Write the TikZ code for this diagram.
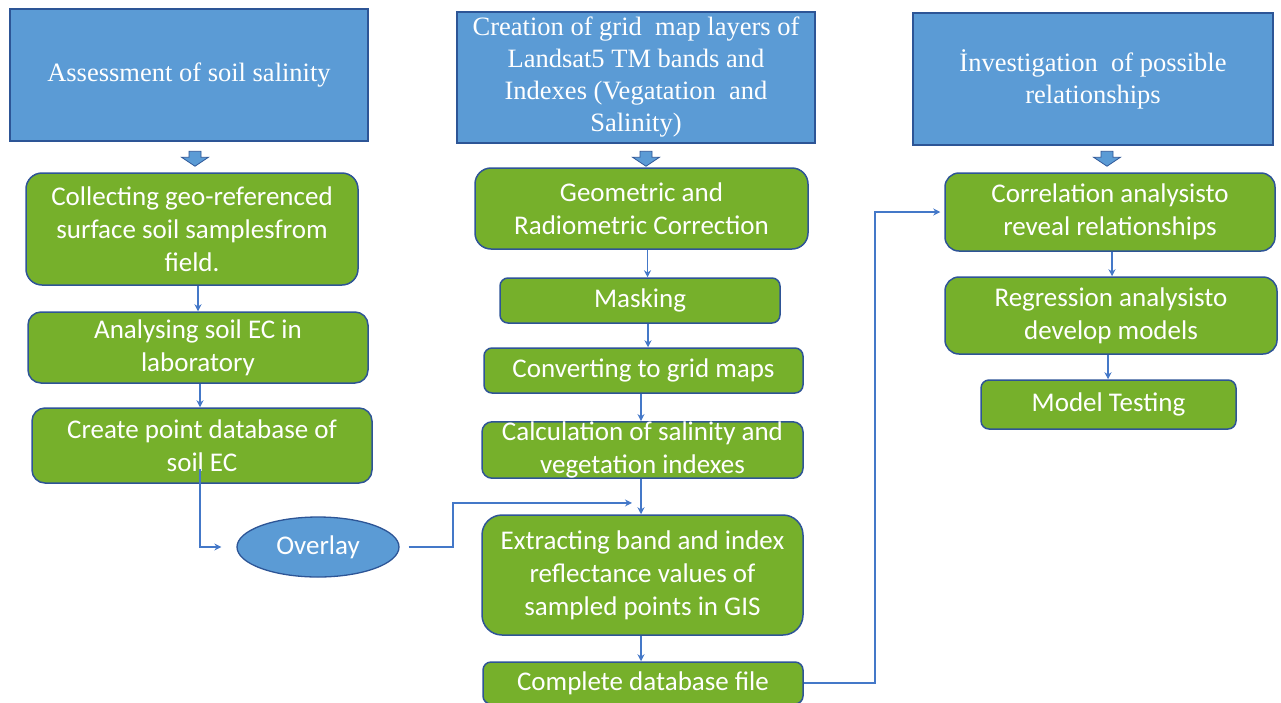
\documentclass[tikz,border=0pt]{standalone}
\usepackage{fontspec}
\setmainfont{Liberation Serif}
\newfontfamily\stepfont{Carlito}
\usetikzlibrary{calc,arrows.meta,shapes.geometric}

\definecolor{titleblue}{RGB}{91,155,213}
\definecolor{titleedge}{RGB}{45,85,150}
\definecolor{stepgreen}{RGB}{118,176,43}
\definecolor{stepedge}{RGB}{46,84,150}
\definecolor{linkblue}{RGB}{68,120,200}

\tikzset{
  titlebox/.style={draw=titleedge, fill=titleblue, line width=1.3pt, text=white,
    font=\fontsize{26.5}{32}\selectfont, align=center, inner sep=0pt},
  stepbox/.style={draw=stepedge, fill=stepgreen, line width=1.5pt, rounded corners=#1,
    text=white, font=\stepfont\fontsize{27}{33}\selectfont, align=center, inner sep=0pt},
  stepbox/.default=13pt,
  link/.style={draw=linkblue, line width=1.8pt, -{Stealth[length=7pt,width=7pt]}},
  blockarrow/.style={fill=titleblue, draw=titleedge, line width=0.8pt, line join=miter}
}

% wide arrow pointing down, tip at the given point
\newcommand\downblock[1]{\filldraw[blockarrow] (#1) -- ++(-13.5,-9) -- ++(7.5,0)
  -- ++(0,-6) -- ++(12,0) -- ++(0,6) -- ++(7.5,0) -- cycle;}

\begin{document}
\begin{tikzpicture}[x=1pt,y=-1pt]
\useasboundingbox (0,0) rectangle (1281,702);
\clip (0,0) rectangle (1281,702);

% stage headers
\node[titlebox, minimum width=358pt, minimum height=132pt] (b1) at (189,75)
  {Assessment of soil salinity};
\node[titlebox, minimum width=358pt, minimum height=131pt] (b2) at (636,77.5)
  {Creation of grid \ map layers of\\Landsat5 TM bands and\\Indexes (Vegatation \ and\\Salinity)};
\node[titlebox, minimum width=360pt, minimum height=132pt] (b3) at (1093,79)
  {İnvestigation \ of possible\\relationships};

% soil sampling branch
\node[stepbox=16pt, minimum width=332pt, minimum height=112pt] (g1) at (192,229)
  {Collecting geo-referenced\\surface soil samplesfrom\\field.};
\node[stepbox, minimum width=340pt, minimum height=71pt] (g2) at (198,347.5)
  {Analysing soil EC in\\laboratory};
\node[stepbox, minimum width=340pt, minimum height=75pt] (g3) at (202,445.5)
  {Create point database of\\soil EC};
\node[ellipse, draw=titleedge, fill=titleblue, line width=1.3pt, text=white,
  font=\stepfont\fontsize{27}{33}\selectfont, minimum width=162pt, minimum height=60pt,
  inner sep=0pt] (ov) at (318,547) {Overlay};

% image processing branch
\node[stepbox=16pt, minimum width=333pt, minimum height=81pt] (g4) at (641.5,208.5)
  {Geometric and\\Radiometric Correction};
\node[stepbox=8pt, minimum width=280pt, minimum height=45pt] (mask) at (640,300.5)
  {Masking};
\node[stepbox=8pt, minimum width=319pt, minimum height=45pt] (conv) at (643.5,370.5)
  {Converting to grid maps};
\node[stepbox=10pt, minimum width=321pt, minimum height=54pt] (calc) at (642.5,450)
  {Calculation of salinity and\\vegetation indexes};
\node[stepbox=20pt, minimum width=321pt, minimum height=120pt] (extr) at (642.5,575)
  {Extracting band and index\\reflectance values of\\sampled points in GIS};
\node[stepbox=8pt, minimum width=320pt, minimum height=42pt] (comp) at (643,683)
  {Complete database file};

% analysis branch
\node[stepbox=14pt, minimum width=330pt, minimum height=78pt] (corr) at (1110,212)
  {Correlation analysisto\\reveal relationships};
\node[stepbox=14pt, minimum width=332pt, minimum height=77pt] (regr) at (1111,315.5)
  {Regression analysisto\\develop models};
\node[stepbox=8pt, minimum width=255pt, minimum height=49pt] (model) at (1108.5,404.5)
  {Model Testing};

% header arrows
\downblock{$(g1.north)+(3,-6)$}
\downblock{$(g4.north)+(4.5,-1)$}
\downblock{$(corr.north)+(-3,-6)$}

% connectors
\draw[link] (g1.south -| g2.north) -- (g2.north);
\draw[link] ($(g2.south)+(2,0)$) -- ($(g3.north)+(-2,0)$);
\draw[link, shorten >=15pt] ($(g3.south)+(-2,-15)$) |- (ov.west);

\draw[link] ($(g4.south)+(6,0)$) -- ($(mask.north)+(7.5,0)$);
\draw[link] ($(mask.south)+(8,0)$) -- ($(conv.north)+(4.5,0)$);
\draw[link] ($(conv.south)+(-2.5,0)$) -- ($(calc.north)+(-1.5,0)$);
\draw[link] ($(calc.south)+(-1.5,0)$) -- ($(extr.north)+(-1.5,0)$);
\draw[link] ($(extr.south)+(-1.5,0)$) -- ($(comp.north)+(-2,0)$);

\coordinate (join) at ($($(calc.south)!0.68!(extr.north)$)+(-1.5,0)$);
\draw[link, shorten <=9pt, shorten >=9pt] (ov.east) -- ++(53,0) |- (join);

\draw[link, shorten >=4pt] (comp.east) -- ++(71,0) |- (corr.west);
\draw[link] ($(corr.south)+(2,0)$) -- ($(regr.north)+(1,0)$);
\draw[link] ($(regr.south)+(-3,0)$) -- ($(model.north)+(-0.5,0)$);
\end{tikzpicture}
\end{document}
